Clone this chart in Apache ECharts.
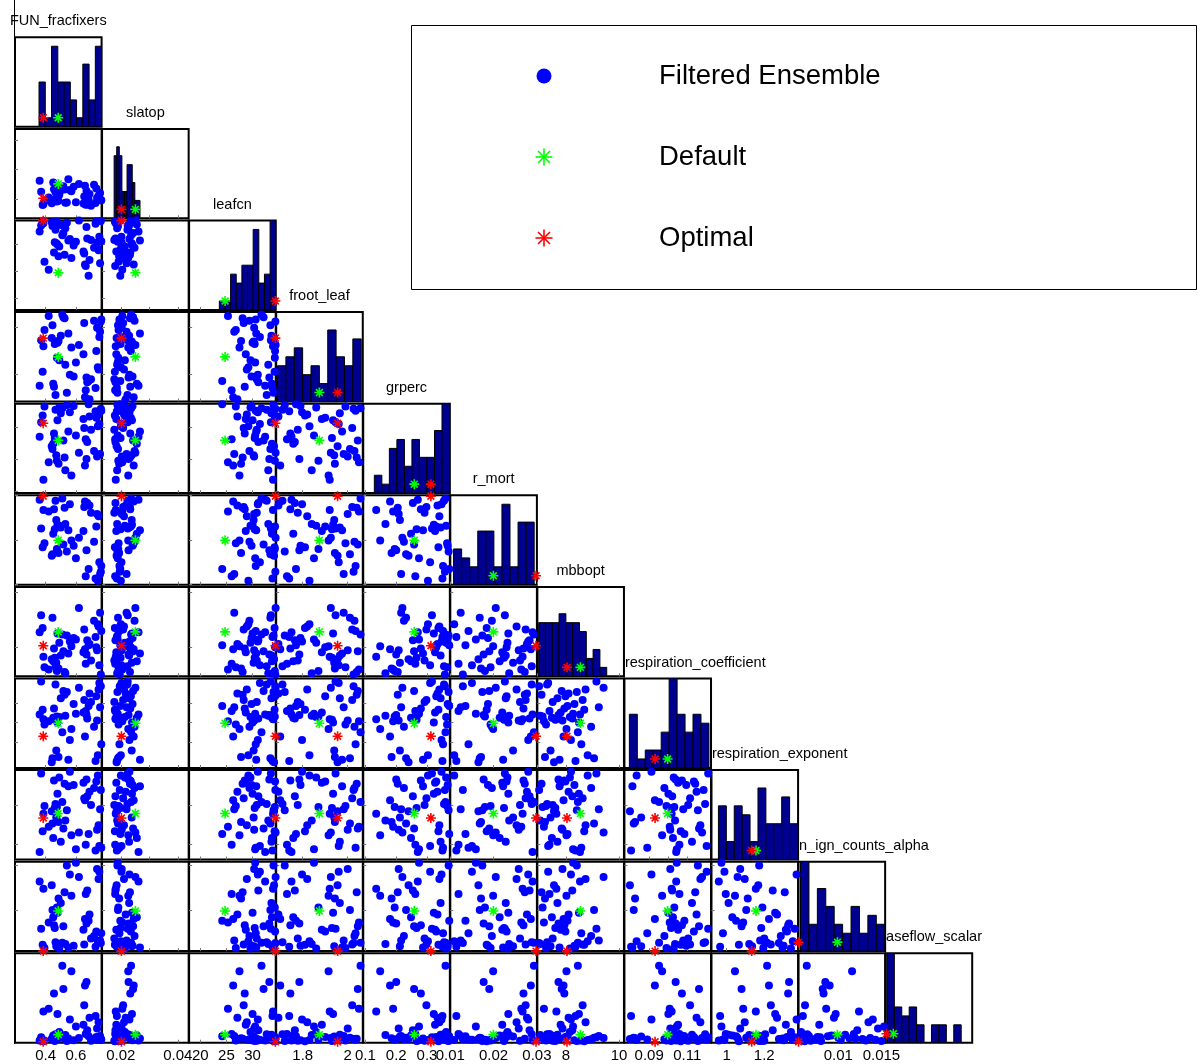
<!DOCTYPE html>
<html><head><meta charset="utf-8">
<script src="https://cdn.jsdelivr.net/npm/echarts@6/dist/echarts.min.js"></script>
<style>html,body{margin:0;padding:0;background:#fff}#chart{width:1200px;height:1064px}</style>
</head><body><div id="chart"></div>
<script>
// ---------------- DATA ----------------
const paramLabels = ['FUN_fracfixers','slatop','leafcn','froot_leaf','grperc','r_mort','mbbopt',
  'respiration_coefficient','respiration_exponent','n_ign_counts_alpha','aseflow_scalar'];

// Filtered ensemble members (48), one array per parameter
const FUN_fracfixers = [0.46,0.73,0.525,0.38,0.66,0.755,0.49,0.445,0.70,0.57,0.765,0.36,0.65,0.47,0.54,0.42,0.745,0.50,0.675,0.392,0.62,0.455,0.768,0.53,0.69,0.44,0.585,0.74,0.37,0.665,0.51,0.474,0.75,0.55,0.684,0.385,0.72,0.465,0.60,0.735,0.485,0.655,0.45,0.56,0.76,0.517,0.478,0.67];
const slatop = [0.0199,0.0186,0.0232,0.0179,0.0245,0.0202,0.0214,0.0190,0.0177,0.0226,0.0196,0.0262,0.0184,0.0238,0.0188,0.0205,0.0200,0.0229,0.0181,0.0192,0.0251,0.0233,0.0195,0.0187,0.0217,0.0185,0.0241,0.0203,0.0224,0.0180,0.0236,0.0191,0.0211,0.0267,0.0198,0.0182,0.0248,0.0223,0.0189,0.0235,0.0194,0.0208,0.0256,0.0230,0.0220,0.0243,0.0239,0.0227];
const leafcn = [30.4,33.8,28.1,34.2,26.3,31.4,29.6,33.4,30.8,27.5,34.35,32.4,28.7,30.2,34.0,25.3,29.2,33.6,31.1,26.8,34.4,28.5,30.6,33.0,27.1,34.1,29.8,30.3,33.5,26.0,31.7,34.25,28.9,30.7,24.2,33.9,29.4,32.7,30.5,34.3,27.8,28.3,33.7,31.0,26.5,32.1,30.0,33.2];
const froot_leaf = [1.93,1.74,2.04,1.81,1.70,1.96,1.86,2.01,1.778,1.915,2.026,1.75,1.885,1.94,1.72,2.05,1.83,1.965,1.765,1.99,1.925,1.745,2.035,1.84,1.692,1.955,1.79,2.0,1.946,1.73,2.057,1.87,1.82,1.975,1.77,1.92,2.03,1.71,1.85,1.90,1.943,2.02,1.758,1.797,1.982,2.045,1.935,1.785];
const grperc = [0.266,0.35,0.205,0.337,0.18,0.31,0.362,0.232,0.292,0.148,0.358,0.27,0.326,0.212,0.37,0.19,0.303,0.344,0.254,0.365,0.22,0.28,0.352,0.165,0.334,0.24,0.367,0.208,0.316,0.262,0.36,0.195,0.34,0.287,0.372,0.135,0.225,0.355,0.274,0.33,0.185,0.298,0.248,0.347,0.216,0.258,0.322,0.20];
const r_mort = [0.0224,0.0114,0.0272,0.0184,0.0286,0.0150,0.0232,0.0168,0.0261,0.0199,0.0129,0.0290,0.0220,0.0245,0.0174,0.0264,0.0109,0.0228,0.0283,0.0193,0.0205,0.0269,0.0142,0.0236,0.0277,0.0165,0.0187,0.0258,0.0226,0.0119,0.0293,0.0180,0.0253,0.0222,0.0135,0.0267,0.0196,0.0288,0.0159,0.0230,0.0171,0.0274,0.0214,0.0280,0.0124,0.0190,0.0234,0.0177];
const mbbopt = [7.60,8.36,7.08,8.69,7.91,7.33,8.15,9.06,7.50,8.02,6.99,8.53,7.80,7.42,8.41,7.17,8.82,7.68,8.24,7.25,9.42,7.94,8.58,7.03,8.10,7.55,8.32,7.87,9.15,7.38,8.45,7.12,8.74,7.76,8.06,7.64,8.95,7.29,8.27,7.98,7.21,8.63,7.47,8.19,9.24,7.84,8.49,7.72];
const respiration_coefficient = [0.1015,0.0805,0.1142,0.1066,0.0930,0.1202,0.1029,0.0819,0.1105,0.0968,0.1186,0.1042,0.1052,0.0858,0.1156,0.1008,0.0834,0.1125,0.1021,0.0991,0.1178,0.1072,0.0890,0.1036,0.1149,0.0799,0.1095,0.1011,0.1210,0.1059,0.0952,0.1032,0.1169,0.0812,0.1085,0.1018,0.0980,0.1194,0.1045,0.1135,0.0826,0.1115,0.1025,0.0912,0.1079,0.1162,0.1001,0.1039];
const respiration_exponent = [1.184,0.965,1.309,1.065,1.225,0.988,1.342,1.104,1.200,1.044,1.278,0.958,1.315,1.135,1.173,1.088,1.352,1.010,1.245,1.195,1.058,1.327,0.980,1.120,1.268,1.168,1.303,1.072,1.362,0.995,1.215,1.190,1.096,1.297,1.050,1.155,1.288,1.205,0.972,1.321,1.112,1.235,1.030,1.372,1.178,1.079,1.258,1.332];
const ign_counts_alpha = [0.0080,0.0059,0.0120,0.0061,0.0090,0.0143,0.0057,0.0100,0.0068,0.0116,0.0063,0.0132,0.0078,0.00595,0.0150,0.0086,0.0065,0.0108,0.0122,0.00575,0.0137,0.0083,0.0074,0.0062,0.0095,0.0128,0.0060,0.0146,0.0079,0.0118,0.00635,0.0103,0.0135,0.0058,0.0088,0.0124,0.0071,0.0064,0.0153,0.0076,0.0113,0.00615,0.0092,0.0140,0.0066,0.0082,0.0097,0.0085];
const baseflow_scalar = [0.02,0.30,0.045,0.016,0.64,0.034,0.12,0.056,0.022,0.80,0.04,0.026,0.20,0.068,0.018,0.38,0.03,0.09,0.14,0.024,0.053,0.55,0.036,0.085,0.28,0.042,0.028,0.16,0.06,0.098,0.86,0.032,0.23,0.048,0.072,0.35,0.038,0.094,0.18,0.064,0.05,0.42,0.08,0.26,0.076,0.60,0.32,0.68];

const defaultValues = [0.483,0.0251,24.75,1.874,0.2586,0.01995,8.545,0.0997,1.156,0.0099,0.09];
const optimalValues = [0.384,0.0202,34.36,1.955,0.3125,0.0298,8.04,0.0931,1.133,0.0054,0.01];

const axisMin = [0.197,0.0134,17.88,1.682,0.093,0.01,6.923,0.0770,0.919,0.0054,0];
const axisMax = [0.77,0.0438,34.42,2.067,0.374,0.03,10.188,0.1225,1.380,0.01543,1];
const histMin = [0.356,0.01764,23.65,1.688,0.129,0.01076,6.972,0.0796,0.956,0.00563,0.015];
const histMax = [0.77,0.02672,34.42,2.06,0.373,0.02937,9.538,0.1214,1.377,0.01538,0.873];
const histCounts = [
  [5,1,9,5,5,3,1,7,3,9],
  [7,8,7,3,3,6,6,4,2,2],
  [1,1,4,3,5,5,9,3,4,13],
  [4,5,6,3,4,2,8,5,4,7],
  [2,1,5,6,3,6,4,4,7,10],
  [4,3,2,6,6,2,9,2,7,7],
  [6,6,6,7,6,6,5,2,3,1],
  [6,1,2,2,4,12,6,4,6,5],
  [6,2,6,5,2,8,4,4,7,4],
  [14,3,7,5,3,2,5,2,4,3],
  [29,4,3,4,2,0,2,2,0,2]
];
const tickValues = [[0.4,0.6],[0.02,0.03,0.04],[20,25,30],[1.8,2],[0.1,0.2,0.3],[0.01,0.02,0.03],[8,10],[0.09,0.1,0.11],[1,1.2],[0.01,0.015],[]];
const legendNames = ['Filtered Ensemble','Default','Optimal'];

// ---------------- LAYOUT ----------------
const params = [FUN_fracfixers,slatop,leafcn,froot_leaf,grperc,r_mort,mbbopt,respiration_coefficient,respiration_exponent,ign_counts_alpha,baseflow_scalar];
const NP = params.length;
const X0 = 15, XS = 87.06, PW = 86.6, Y0 = 37.3, YS = 91.6, PH = 89.4;
const FONT = '"Liberation Sans", Arial, Helvetica, sans-serif';
const STAR = 'path://M0 5L10 5M5 0L5 10M1.6 1.6L8.4 8.4M1.6 8.4L8.4 1.6';
const fmt = v => String(+Number(v).toPrecision(6));

const grids = [], xAxes = [], yAxes = [], series = [];
function starSeries(gi, data, color, name) {
  return {type:'scatter', name, xAxisIndex:gi, yAxisIndex:gi, data, symbol:STAR, symbolSize:10, clip:false,
    itemStyle:{color:'rgba(0,0,0,0)', borderColor:color, borderWidth:1.6, opacity:1}, z:4, silent:true};
}
function renderHist(p, api) {
  const lo = api.value(0), hi = api.value(1), n = api.value(2);
  const a = api.coord([lo, 0]), b = api.coord([hi, n]);
  const cs = p.coordSys;
  const r = echarts.graphic.clipRectByRect({x:a[0], y:b[1], width:b[0]-a[0], height:a[1]-b[1]},
    {x:cs.x, y:cs.y - 0.5, width:cs.width, height:cs.height + 0.5});
  if (!r || r.height <= 0) return null;
  return {type:'rect', shape:r, style:{fill:'#000090', stroke:'#000', lineWidth:1}};
}

let gi = 0;
for (let r = 0; r < NP; r++) {
  for (let c = 0; c <= r; c++) {
    const isDiag = r === c;
    grids.push({left:X0 + c*XS, top:Y0 + r*YS, width:PW, height:PH, show:true,
      borderColor:'#000', borderWidth:2, backgroundColor:'rgba(0,0,0,0)', containLabel:false});
    xAxes.push({type:'value', gridIndex:gi, min:axisMin[c], max:axisMax[c],
      axisLine:{show:false}, splitLine:{show:false},
      axisTick:{show:true, inside:true, length:3, customValues:tickValues[c], lineStyle:{color:'#777', width:1}},
      axisLabel:{show:r === NP-1, customValues:tickValues[c], formatter:fmt, fontSize:15, color:'#000',
        fontFamily:FONT, margin:6, showMinLabel:true, showMaxLabel:true}});
    if (isDiag) {
      yAxes.push({type:'value', gridIndex:gi, min:0, max:10, axisLine:{show:false}, splitLine:{show:false},
        axisTick:{show:false}, axisLabel:{show:false}});
      const bins = [];
      const w = (histMax[c]-histMin[c]) / histCounts[c].length;
      histCounts[c].forEach((n, k) => bins.push([histMin[c] + k*w, histMin[c] + (k+1)*w, n]));
      series.push({type:'custom', xAxisIndex:gi, yAxisIndex:gi, data:bins, renderItem:renderHist, clip:true, z:2, silent:true});
      series.push(starSeries(gi, [[defaultValues[c], 1]], '#00ff00', legendNames[1]));
      series.push(starSeries(gi, [[optimalValues[c], 1]], '#ff0000', legendNames[2]));
    } else {
      yAxes.push({type:'value', gridIndex:gi, min:axisMin[r], max:axisMax[r], axisLine:{show:false}, splitLine:{show:false},
        axisTick:{show:true, inside:true, length:3, customValues:tickValues[r], lineStyle:{color:'#777', width:1}},
        axisLabel:{show:false}});
      const pts = params[c].map((v, k) => [v, params[r][k]]);
      series.push({type:'scatter', name:legendNames[0], xAxisIndex:gi, yAxisIndex:gi, data:pts,
        symbol:'circle', symbolSize:8, clip:false, itemStyle:{color:'#0000ff', opacity:1}, z:3, silent:true});
      series.push(starSeries(gi, [[defaultValues[c], defaultValues[r]]], '#00ff00', legendNames[1]));
      series.push(starSeries(gi, [[optimalValues[c], optimalValues[r]]], '#ff0000', legendNames[2]));
    }
    gi++;
  }
}

// ---------------- GRAPHICS: labels, legend ----------------
const graphic = [];
graphic.push({type:'line', shape:{x1:14.5, y1:0, x2:14.5, y2:1044}, style:{stroke:'#000', lineWidth:1}, z:5, silent:true});
paramLabels.forEach((t, i) => {
  const left = i >= 7;
  graphic.push({type:'text', z:-5, silent:true,
    x: left ? X0 + i*XS + 0.5 : X0 + i*XS + PW/2,
    y: Y0 + i*YS - 16,
    style:{text:t, fill:'#000', font:'14.5px ' + FONT, textAlign:left ? 'left' : 'center', textVerticalAlign:'middle'}});
});
// legend box
graphic.push({type:'rect', shape:{x:411.5, y:25.5, width:785, height:264}, style:{fill:'#fff', stroke:'#000', lineWidth:1}, z:10, silent:true});
const legY = [76, 157, 238];
graphic.push({type:'circle', shape:{cx:544, cy:legY[0], r:7.5}, style:{fill:'#0000ff'}, z:11, silent:true});
function legendStar(cy, color) {
  const s = 8.5, d = 6;
  [[-s,0,s,0],[0,-s,0,s],[-d,-d,d,d],[-d,d,d,-d]].forEach(L => graphic.push({type:'line',
    shape:{x1:544+L[0], y1:cy+L[1], x2:544+L[2], y2:cy+L[3]}, style:{stroke:color, lineWidth:1.6}, z:11, silent:true}));
}
legendStar(legY[1], '#00ff00');
legendStar(legY[2], '#ff0000');
legendNames.forEach((t, i) => graphic.push({type:'text', x:659, y:legY[i], z:11, silent:true,
  style:{text:t, fill:'#000', font:'27.5px ' + FONT, textAlign:'left', textVerticalAlign:'middle'}}));

const chart = echarts.init(document.getElementById('chart'), null, {renderer:'canvas'});
chart.setOption({animation:false, backgroundColor:'#fff', grid:grids, xAxis:xAxes, yAxis:yAxes, series, graphic});
</script></body></html>
